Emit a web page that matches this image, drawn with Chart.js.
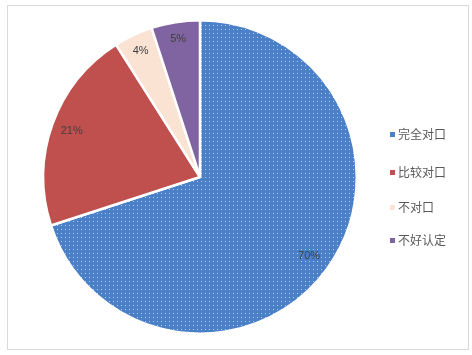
<!DOCTYPE html>
<html><head><meta charset="utf-8">
<script src="https://cdn.jsdelivr.net/npm/chart.js@4/dist/chart.umd.min.js"></script>
<style>
html,body{margin:0;padding:0;background:#fff;}
#wrap{position:absolute;left:0;top:0;width:472px;height:355px;}
</style></head>
<body><div id="wrap"><canvas id="c" width="472" height="355"></canvas></div>
<script>
const categories = ['完全对口','比较对口','不对口','不好认定'];
const values = [70, 21, 4, 5];
const valueLabels = ['70%','21%','4%','5%'];

function dotPattern(){
  const p = document.createElement('canvas');
  p.width = 4; p.height = 4;
  const g = p.getContext('2d');
  g.fillStyle = '#4A80C8'; g.fillRect(0,0,4,4);
  g.fillStyle = '#B9CFEE'; g.fillRect(1,1,1,1);
  return document.getElementById('c').getContext('2d').createPattern(p,'repeat');
}
const colors = [dotPattern(), '#C0504D', '#FBE3D3', '#8064A2'];
const legendColors = ['#4A80C8', '#C0504D', '#FBE3D3', '#8064A2'];

const framePlugin = {
  id:'frame',
  beforeDraw(chart){
    const ctx = chart.ctx;
    ctx.save();
    ctx.fillStyle='#fff'; ctx.fillRect(0,0,472,355);
    ctx.strokeStyle='#D9D9D9'; ctx.lineWidth=1;
    ctx.strokeRect(7.5,5.5,461,344);
    ctx.restore();
  }
};
const labelPlugin = {
  id:'labels',
  afterDatasetsDraw(chart){
    const ctx = chart.ctx;
    const meta = chart.getDatasetMeta(0);
    ctx.save();
    ctx.font = '11px "Liberation Sans", Arial, sans-serif';
    ctx.fillStyle = '#404040';
    ctx.textAlign='center'; ctx.textBaseline='middle';
    const f = [0.86, 0.87, 0.89, 0.89];
    meta.data.forEach((arc,i)=>{
      const mid = (arc.startAngle+arc.endAngle)/2;
      const r = arc.outerRadius*f[i];
      ctx.fillText(valueLabels[i], arc.x + Math.cos(mid)*r, arc.y + Math.sin(mid)*r);
    });
    const ys = [134, 172, 207, 240];
    ctx.textAlign='left';
    ctx.font = '12px "Noto Sans CJK SC", sans-serif';
    categories.forEach((c,i)=>{
      ctx.fillStyle = legendColors[i];
      ctx.fillRect(390, ys[i]-2, 5, 5);
      ctx.fillStyle = '#595959';
      ctx.fillText(c, 398, ys[i]);
    });
    ctx.restore();
  }
};

new Chart(document.getElementById('c'), {
  type:'pie',
  data:{ labels:categories, datasets:[{ data:values, backgroundColor:colors, borderColor:'#fff', borderWidth:2.5 }]},
  options:{
    responsive:false, animation:false,
    layout:{ padding:{ left:42, right:114, top:19, bottom:20 } },
    plugins:{ legend:{display:false}, tooltip:{enabled:false} }
  },
  plugins:[framePlugin, labelPlugin]
});
</script></body></html>
